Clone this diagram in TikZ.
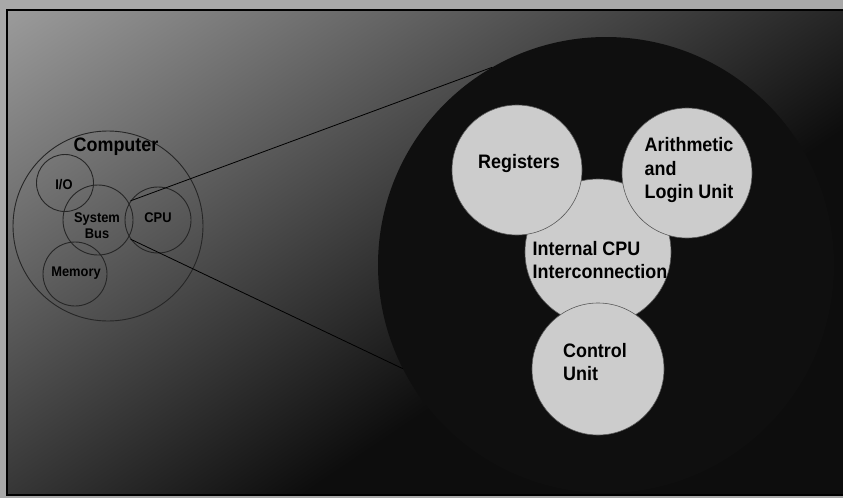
\documentclass[tikz,border=0pt]{standalone}
\usepackage{fontspec}
\setmainfont{Liberation Sans}[FakeStretch=0.92]
\definecolor{paper}{gray}{0.66}
\definecolor{lightpart}{gray}{0.62}
\definecolor{midpart}{gray}{0.40}
\definecolor{darkpart}{gray}{0.05}
\definecolor{disc}{gray}{0.80}
\definecolor{ink}{gray}{0.06}

\begin{document}
\begin{tikzpicture}[x=1pt,y=-1pt,
  part/.style={circle,draw=black!85,line width=0.9pt,inner sep=0pt},
  unit/.style={circle,fill=disc,draw=black!65,line width=0.6pt,inner sep=0pt},
  bigtxt/.style={font=\fontsize{19.5}{23.5}\selectfont\bfseries,align=left,inner sep=0pt},
  smalltxt/.style={font=\fontsize{14}{16}\selectfont\bfseries,align=center,inner sep=0pt}]
\useasboundingbox (0,0) rectangle (843,498);
\fill[paper] (0,0) rectangle (843,498);
% background, light at top left, dark at bottom right
\begin{scope}
  \clip (7,10) rectangle (843,495);
  \fill[darkpart] (7,10) rectangle (843,495);
  \begin{scope}[transform canvas={rotate around={34:(425,252)}}]
    \shade[top color=lightpart,middle color=midpart,bottom color=darkpart] (-275,-194.5) rectangle (1125,385.5);
  \end{scope}
\end{scope}
\draw[line width=1.6pt] (845,10) -- (7,10) -- (7,495) -- (845,495);

% the computer
\node[part,minimum size=190pt] (computer) at (108,226) {};
\node[part,minimum size=57pt] (io) at (65,183) {};
\node[part,minimum size=70pt] (bus) at (98,220) {};
\node[part,minimum size=66pt] (cpu) at (158,220) {};
\node[part,minimum size=64pt] (memory) at (75,274) {};
\node[bigtxt] (computertxt) at (116,147) {Computer};
\node[smalltxt] (iotxt) at (64,185) {I/O};
\node[smalltxt] (bustxt) at (97,226) {System\\Bus};
\node[smalltxt] (cputxt) at (158,218) {CPU};
\node[smalltxt] (memorytxt) at (76,273) {Memory};

% the cpu, enlarged
\node[circle,fill=ink,inner sep=0pt,minimum size=456pt] (cpuzoom) at (606,265) {};
\draw[line width=0.8pt] (cpu.145) -- (cpuzoom.120);
\draw[line width=0.8pt] (cpu.215) -- (cpuzoom.207);

\node[unit,minimum size=146pt] (icpu) at (598,252) {};
\node[unit,minimum size=130pt] (reg) at (517,170) {};
\node[unit,minimum size=130pt] (alu) at (687,173) {};
\node[unit,minimum size=132pt] (cu) at (598,369) {};
\node[bigtxt] (regtxt) at (519,163) {Registers};
\node[bigtxt] (alutxt) at (689,170) {Arithmetic\\and\\Login Unit};
\node[bigtxt] (icputxt) at (600,260) {Internal CPU\\Interconnection};
\node[bigtxt] (cutxt) at (595,362) {Control\\Unit};
\end{tikzpicture}
\end{document}
